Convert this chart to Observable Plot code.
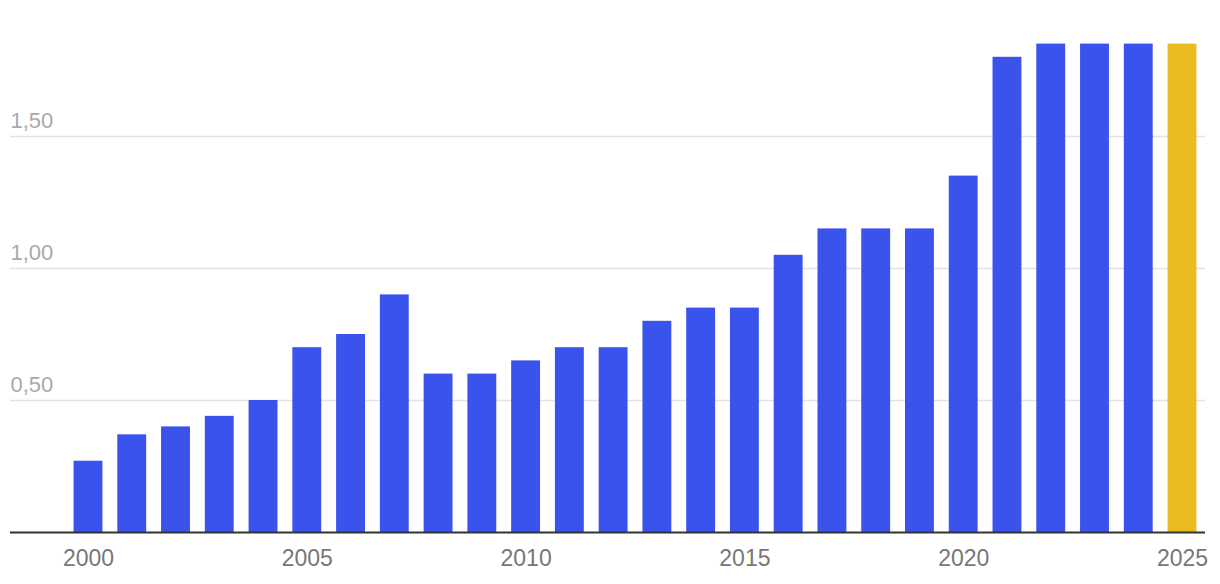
<!DOCTYPE html>
<html>
<head>
<meta charset="utf-8">
<script src="https://cdn.jsdelivr.net/npm/d3@7"></script>
<script src="https://cdn.jsdelivr.net/npm/@observablehq/plot@0.6"></script>
<style>
  html, body { margin: 0; padding: 0; background: #fff; }
  svg { display: block; font-family: "Liberation Sans", Helvetica, Arial, sans-serif; }
</style>
</head>
<body>
<div id="chart"></div>
<script>
const years = [2000,2001,2002,2003,2004,2005,2006,2007,2008,2009,2010,2011,2012,2013,2014,2015,2016,2017,2018,2019,2020,2021,2022,2023,2024,2025];
const values = [0.27,0.37,0.40,0.44,0.50,0.70,0.75,0.90,0.60,0.60,0.65,0.70,0.70,0.80,0.85,0.85,1.05,1.15,1.15,1.15,1.35,1.80,1.85,1.85,1.85,1.85];
const highlightYear = 2025;
const xTickYears = [2000,2005,2010,2015,2020,2025];
const yTickValues = [0.5, 1.0, 1.5];
const yTickLabels = ["0,50", "1,00", "1,50"];

const data = years.map((y, i) => ({year: y, value: values[i], hi: y === highlightYear}));
const yTicks = yTickValues.map((v, i) => ({v, label: yTickLabels[i]}));

const chart = Plot.plot({
  width: 1220,
  height: 584,
  marginTop: 4,
  marginBottom: 52,
  marginLeft: 10,
  marginRight: 15,
  style: {fontFamily: '"Liberation Sans", Helvetica, Arial, sans-serif', background: "#fff"},
  x: {type: "band", domain: years, range: [66.1, 1203.9], round: false, paddingInner: 0.34, paddingOuter: 0.17, axis: null},
  y: {domain: [0, 2], axis: null},
  color: {domain: [false, true], range: ["#3a53ec", "#ebbc22"]},
  marks: [
    Plot.ruleY(yTicks, {y: "v", stroke: "#e3e3e3", strokeWidth: 1.5}),
    Plot.text(yTicks, {y: "v", text: "label", frameAnchor: "left", textAnchor: "start", lineAnchor: "bottom", dy: -9, fill: "#a9a9a9", fontSize: 22}),
    Plot.barY(data, {x: "year", y: "value", fill: "hi"}),
    Plot.ruleY([0], {stroke: "#333", strokeWidth: 2}),
    Plot.axisX({ticks: xTickYears, tickSize: 0, tickPadding: 17, fontSize: 23, color: "#777", label: null, tickFormat: d => String(d)})
  ]
});
document.getElementById("chart").appendChild(chart);
</script>
</body>
</html>
